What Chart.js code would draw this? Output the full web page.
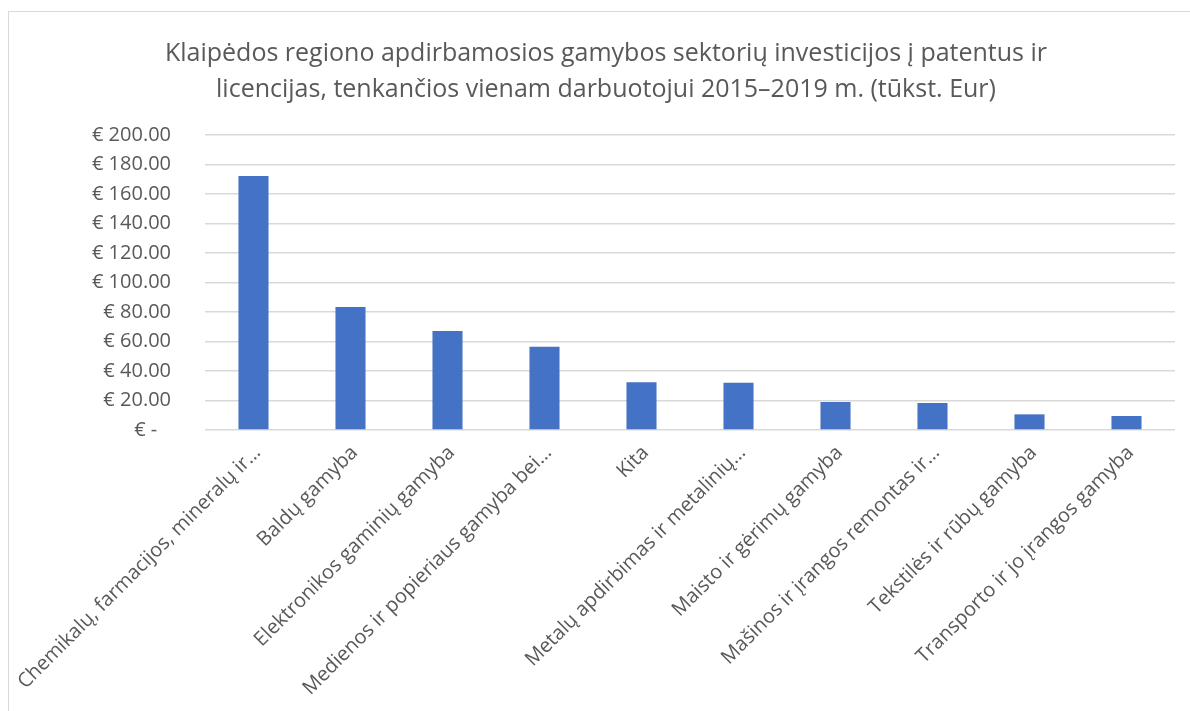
<!DOCTYPE html>
<html>
<head>
<meta charset="utf-8">
<script src="https://cdn.jsdelivr.net/npm/chart.js@4/dist/chart.umd.min.js"></script>
<style>
  html, body { margin: 0; padding: 0; background: #fff; }
  #wrap { position: relative; width: 1190px; height: 711px; }
</style>
</head>
<body>
<div id="wrap"><canvas id="chart" width="1190" height="711"></canvas></div>
<script>
// Sektoriai (truncated the way the axis shows them)
const sectors = [
    "Chemikalų, farmacijos, mineralų ir…",
    "Baldų gamyba",
    "Elektronikos gaminių gamyba",
    "Medienos ir popieriaus gamyba bei…",
    "Kita",
    "Metalų apdirbimas ir metalinių…",
    "Maisto ir gėrimų gamyba",
    "Mašinos ir įrangos remontas ir…",
    "Tekstilės ir rūbų gamyba",
    "Transporto ir jo įrangos gamyba"
];
// tūkst. Eur vienam darbuotojui
const investPerWorker = [172.2, 83.4, 67.1, 56.5, 32.3, 32.1, 19.0, 18.3, 10.6, 9.5];

const titleLines = [
    "Klaipėdos regiono apdirbamosios gamybos sektorių investicijos į patentus ir",
    "licencijas, tenkančios vienam darbuotojui 2015–2019 m. (tūkst. Eur)"
];
const yMin = 0, yMax = 200, yStep = 20;

const TXT = "#595959";
const GRID = "#d9d9d9";
const FONT = "'Open Sans', 'Noto Sans', sans-serif";

// euro accounting style labels, zero shown as a dash
const euro = v => v === 0 ? "€ -  \u2009" : "€ " + Number(v).toFixed(2);

// thin frame round the whole chart
const framePlugin = {
    id: "frame",
    beforeDraw(chart) {
        const c = chart.ctx;
        c.save();
        c.strokeStyle = GRID;
        c.lineWidth = 1;
        c.strokeRect(8.5, 11.5, 1200, 720);
        c.restore();
    }
};

const PAD_LEFT = 37;

new Chart(document.getElementById("chart"), {
    type: "bar",
    data: {
        labels: sectors,
        datasets: [{
            data: investPerWorker,
            backgroundColor: "#4472C4",
            borderWidth: 0,
            barPercentage: 0.62,
            categoryPercentage: 0.5
        }]
    },
    options: {
        responsive: false,
        animation: false,
        layout: { padding: { left: PAD_LEFT, right: 15, top: 0, bottom: 0 } },
        plugins: {
            legend: { display: false },
            tooltip: { enabled: false },
            title: {
                display: true,
                text: titleLines,
                color: TXT,
                font: { family: FONT, size: 25, weight: "normal", lineHeight: "36px" },
                padding: { top: 36, bottom: 27 }
            }
        },
        scales: {
            x: {
                grid: { display: false },
                border: { display: false },
                ticks: {
                    color: TXT,
                    font: { family: FONT, size: 20 },
                    minRotation: 45,
                    maxRotation: 45,
                    autoSkip: false,
                    padding: 3,
                    labelOffset: 4
                },
                afterFit(s) { s.height = 281; }
            },
            y: {
                min: yMin,
                max: yMax,
                grid: { color: GRID, lineWidth: 1.5, drawTicks: false },
                border: { display: false },
                ticks: {
                    stepSize: yStep,
                    color: TXT,
                    font: { family: FONT, size: 20 },
                    padding: 34,
                    callback: v => euro(v)
                },
                afterFit(s) { s.width = 205 - PAD_LEFT; }
            }
        }
    },
    plugins: [framePlugin]
});
</script>
</body>
</html>
